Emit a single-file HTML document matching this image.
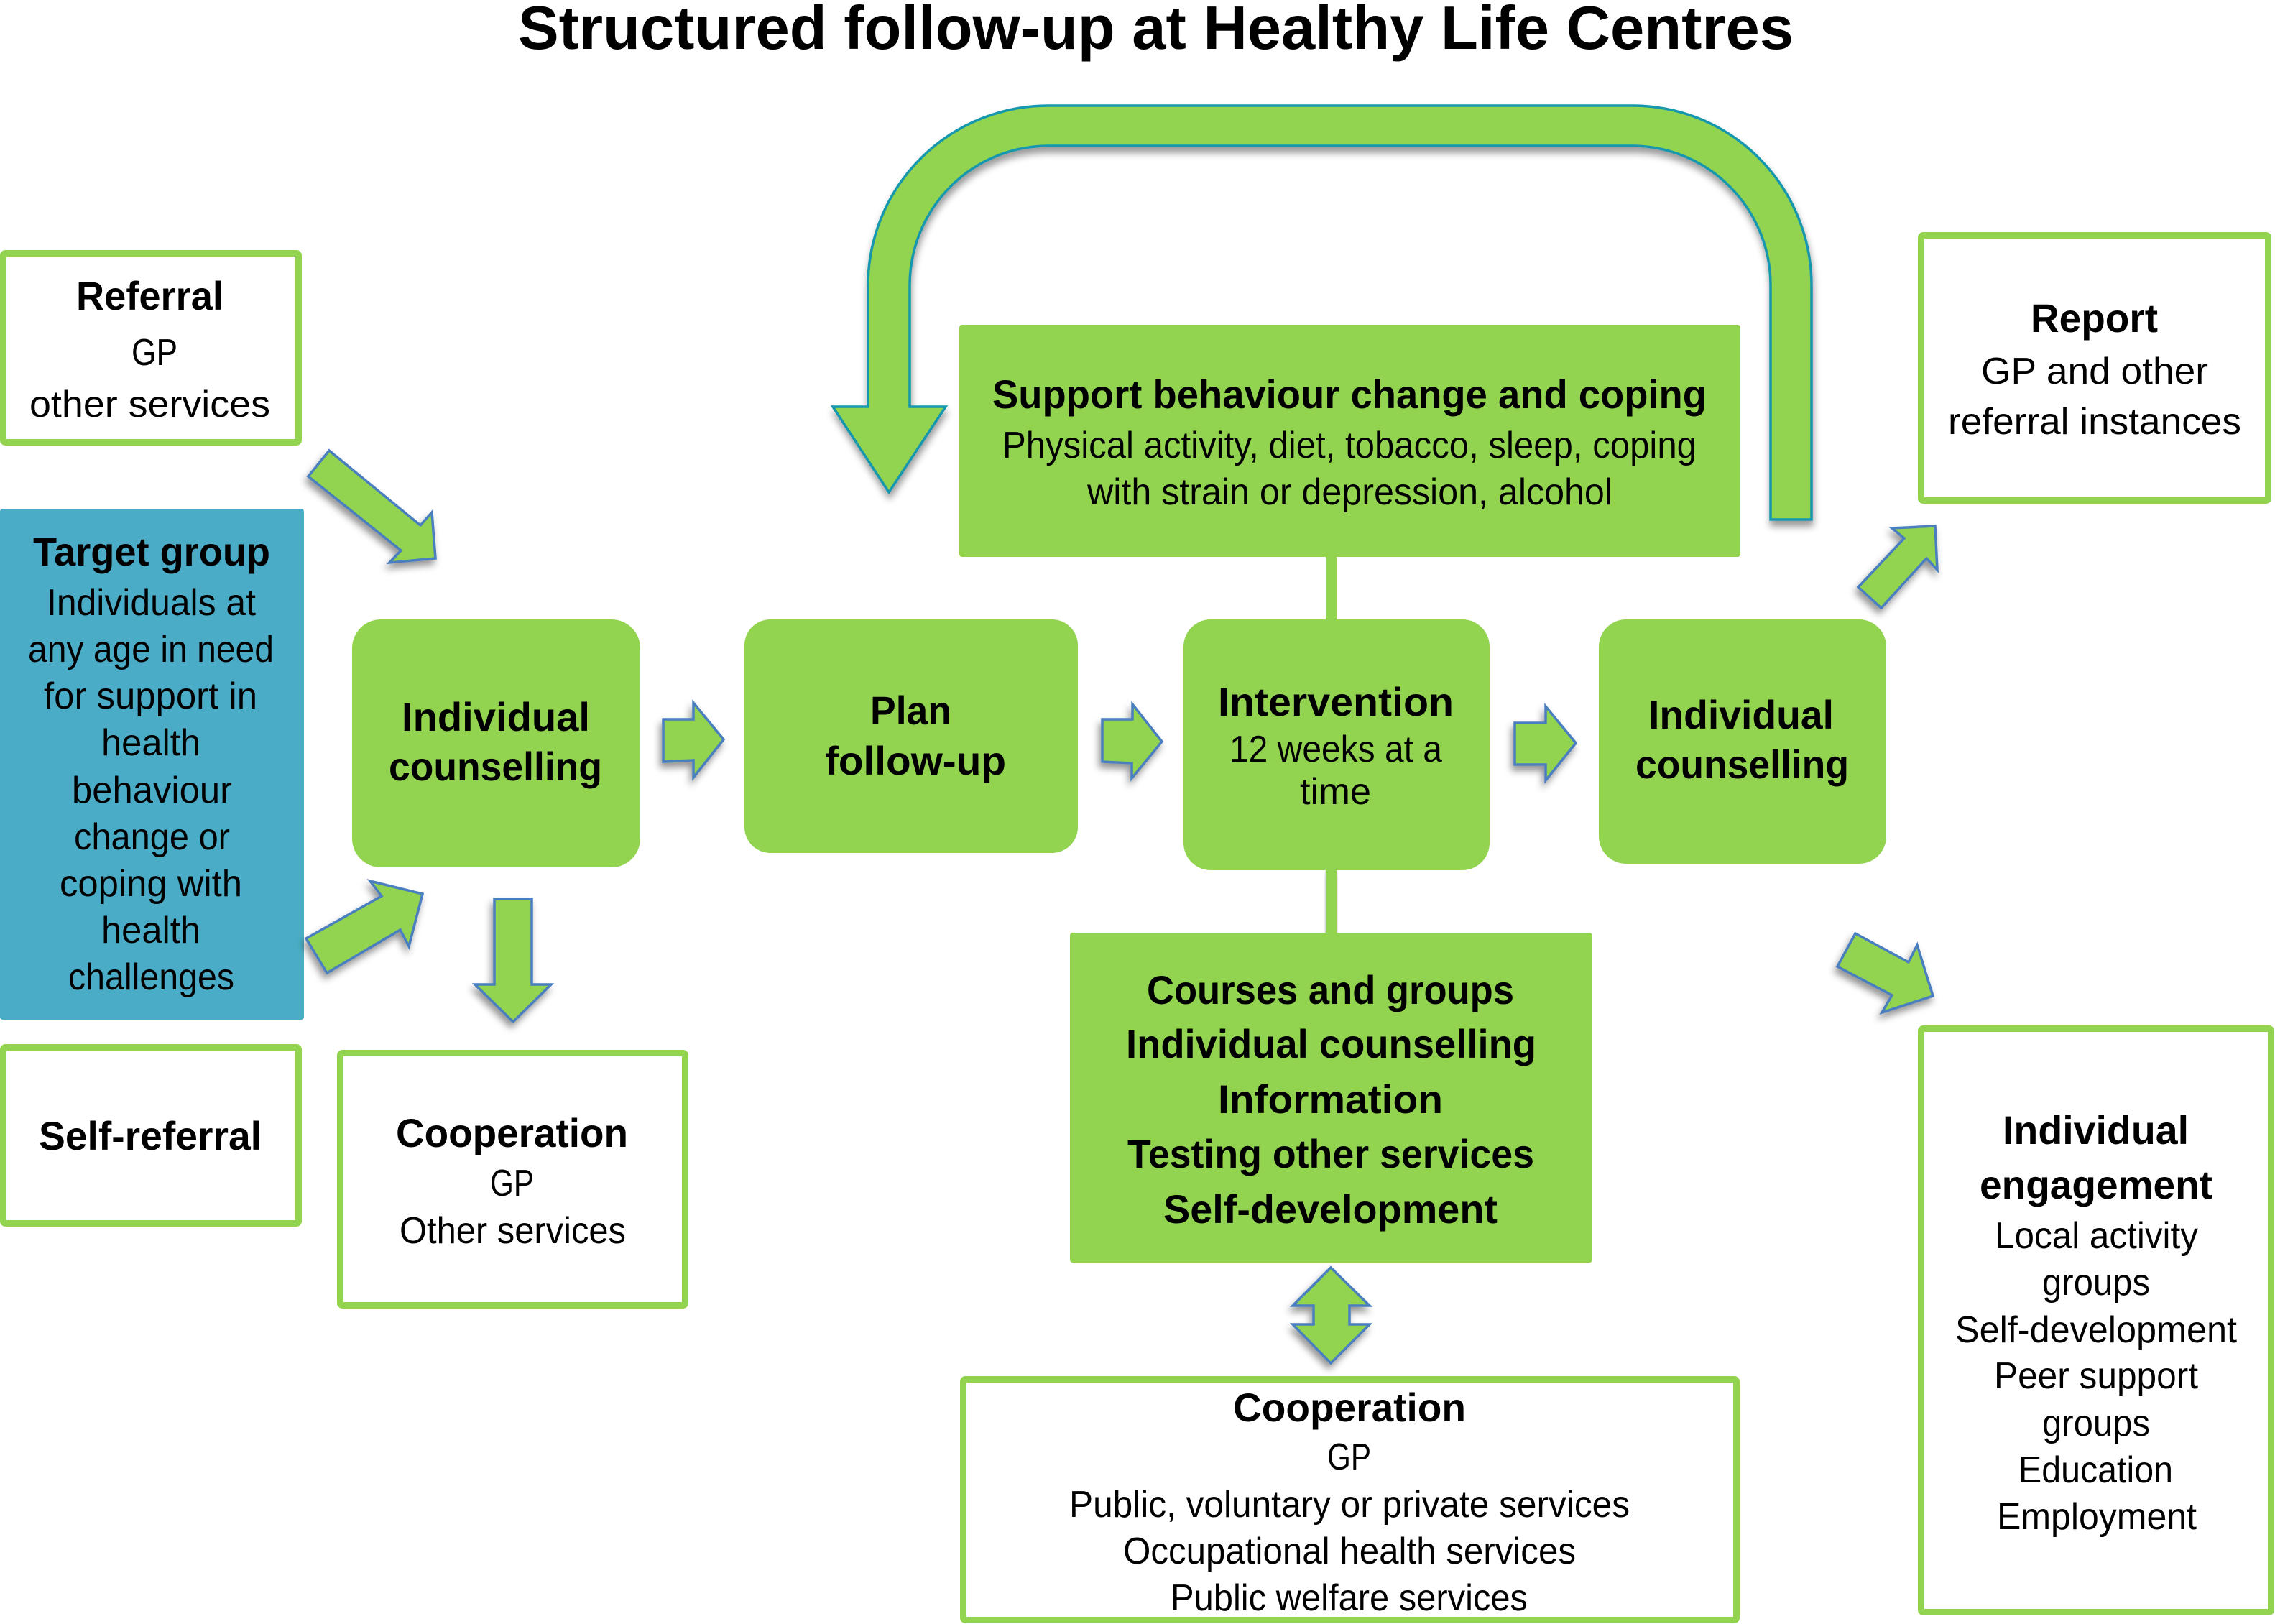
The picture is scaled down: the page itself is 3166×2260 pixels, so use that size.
<!DOCTYPE html>
<html>
<head>
<meta charset="utf-8">
<title>Structured follow-up at Healthy Life Centres</title>
<style>
html,body{margin:0;padding:0;background:#fff;}
svg{display:block;}
text{font-family:"Liberation Sans",sans-serif;fill:#000;}
.b{font-weight:bold;font-size:56px;}
.r{font-size:52px;}
.t{font-weight:bold;font-size:85px;}
.g{fill:#92D350;}
.w{fill:#fff;stroke:#92D350;stroke-width:9;}
.a{fill:#92D350;stroke:#4A7EBF;stroke-width:3.5;stroke-linejoin:miter;filter:url(#sh);}
</style>
</head>
<body>
<svg width="3166" height="2260" viewBox="0 0 3166 2260" xmlns="http://www.w3.org/2000/svg">
<defs>
<filter id="sh" x="-30%" y="-30%" width="170%" height="170%">
<feDropShadow dx="-3" dy="7" stdDeviation="5" flood-color="#000" flood-opacity="0.42"/>
</filter>
<filter id="sh2" x="-10%" y="-10%" width="120%" height="120%">
<feDropShadow dx="1" dy="8" stdDeviation="5" flood-color="#000" flood-opacity="0.4"/>
</filter>
</defs>

<!-- title -->
<text class="t" x="721" y="68" textLength="1775" lengthAdjust="spacingAndGlyphs">Structured follow-up at Healthy Life Centres</text>

<!-- connectors -->
<rect class="g" x="1845" y="770" width="15" height="95"/>
<rect class="g" x="1845" y="1205" width="15" height="98" filter="url(#sh2)"/>

<!-- curved arrow -->
<path d="M2464 723 L2464 397 A193 194 0 0 0 2272 203 L1459 203 A193 194 0 0 0 1266 397 L1266 566 L1316 566 L1237 685 L1159 566 L1208 566 L1208 397 A251 250 0 0 1 1459 147 L2272 147 A249 250 0 0 1 2521 397 L2521 723 Z" fill="#92D350" stroke="#1497AE" stroke-width="3.5" filter="url(#sh2)"/>

<!-- left boxes -->
<rect class="w" x="4.5" y="352.5" width="411" height="263" rx="3"/>
<rect x="0" y="708" width="423" height="711" rx="4" fill="#4BACC7"/>
<rect class="w" x="4.5" y="1457.5" width="411" height="245" rx="3"/>
<rect class="w" x="473.5" y="1465.5" width="480" height="351" rx="3"/>

<!-- rounded process boxes -->
<rect class="g" x="490" y="862" width="401" height="345" rx="40"/>
<rect class="g" x="1036" y="862" width="464" height="325" rx="36"/>
<rect class="g" x="1647" y="862" width="426" height="349" rx="38"/>
<rect class="g" x="2225" y="862" width="400" height="340" rx="38"/>

<!-- centre boxes -->
<rect class="g" x="1335" y="452" width="1087" height="323" rx="4"/>
<rect class="g" x="1489" y="1298" width="727" height="459" rx="4"/>
<rect class="w" x="1340.5" y="1919.5" width="1076" height="335" rx="3"/>

<!-- right boxes -->
<rect class="w" x="2673.5" y="327.5" width="483" height="369" rx="3"/>
<rect class="w" x="2673.5" y="1431.5" width="487" height="812" rx="3"/>

<!-- arrows -->
<polygon class="a" points="458,627 585,731 601,713 606,777 542,783 558,766 429,663"/>
<polygon class="a" points="426,1306 531,1247 515,1226 588,1244 569,1317 557,1294 455,1354"/>
<polygon class="a" points="688,1251 740,1251 740,1370 767,1370 714,1422 661,1370 688,1370"/>
<polygon class="a" points="923,1001 965,1001 965,978 1007,1029 965,1082 965,1058 923,1060"/>
<polygon class="a" points="1534,1001 1576,1001 1576,980 1617,1032 1575,1083 1575,1062 1534,1060"/>
<polygon class="a" points="2108,1006 2151,1006 2151,983 2193,1034 2151,1086 2151,1064 2108,1064"/>
<polygon class="a" points="2633,735 2693,732 2696,793 2681,777 2618,846 2586,817 2650,749"/>
<polygon class="a" points="2582,1299 2656,1339 2668,1315 2690,1386 2619,1409 2633,1385 2557,1345"/>
<polygon class="a" points="1852,1764 1906,1817 1878,1817 1878,1843 1906,1843 1852,1897 1799,1843 1828,1843 1828,1817 1799,1817"/>

<!-- Referral -->
<text class="b" x="106" y="431" textLength="205" lengthAdjust="spacingAndGlyphs">Referral</text>
<text class="r" x="183" y="508" textLength="64" lengthAdjust="spacingAndGlyphs">GP</text>
<text class="r" x="41" y="580" textLength="335" lengthAdjust="spacingAndGlyphs">other services</text>

<!-- Target group -->
<text class="b" x="46" y="787" textLength="330" lengthAdjust="spacingAndGlyphs">Target group</text>
<text class="r" x="65" y="856" textLength="291" lengthAdjust="spacingAndGlyphs">Individuals at</text>
<text class="r" x="39" y="921" textLength="342" lengthAdjust="spacingAndGlyphs">any age in need</text>
<text class="r" x="61" y="986" textLength="297" lengthAdjust="spacingAndGlyphs">for support in</text>
<text class="r" x="141" y="1051" textLength="138" lengthAdjust="spacingAndGlyphs">health</text>
<text class="r" x="100" y="1117" textLength="223" lengthAdjust="spacingAndGlyphs">behaviour</text>
<text class="r" x="103" y="1182" textLength="217" lengthAdjust="spacingAndGlyphs">change or</text>
<text class="r" x="83" y="1247" textLength="254" lengthAdjust="spacingAndGlyphs">coping with</text>
<text class="r" x="141" y="1312" textLength="138" lengthAdjust="spacingAndGlyphs">health</text>
<text class="r" x="95" y="1377" textLength="231" lengthAdjust="spacingAndGlyphs">challenges</text>

<!-- Self-referral -->
<text class="b" x="54" y="1600" textLength="310" lengthAdjust="spacingAndGlyphs">Self-referral</text>

<!-- Cooperation left -->
<text class="b" x="551" y="1596" textLength="323" lengthAdjust="spacingAndGlyphs">Cooperation</text>
<text class="r" x="682" y="1664" textLength="61" lengthAdjust="spacingAndGlyphs">GP</text>
<text class="r" x="556" y="1730" textLength="315" lengthAdjust="spacingAndGlyphs">Other services</text>

<!-- Individual counselling left -->
<text class="b" x="559" y="1017" textLength="262" lengthAdjust="spacingAndGlyphs">Individual</text>
<text class="b" x="541" y="1086" textLength="297" lengthAdjust="spacingAndGlyphs">counselling</text>

<!-- Plan -->
<text class="b" x="1211" y="1008" textLength="113" lengthAdjust="spacingAndGlyphs">Plan</text>
<text class="b" x="1148" y="1078" textLength="252" lengthAdjust="spacingAndGlyphs">follow-up</text>

<!-- Intervention -->
<text class="b" x="1695" y="996" textLength="328" lengthAdjust="spacingAndGlyphs">Intervention</text>
<text class="r" x="1711" y="1060" textLength="296" lengthAdjust="spacingAndGlyphs">12 weeks at a</text>
<text class="r" x="1809" y="1119" textLength="99" lengthAdjust="spacingAndGlyphs">time</text>

<!-- Individual counselling right -->
<text class="b" x="2294" y="1014" textLength="258" lengthAdjust="spacingAndGlyphs">Individual</text>
<text class="b" x="2276" y="1083" textLength="297" lengthAdjust="spacingAndGlyphs">counselling</text>

<!-- Support -->
<text class="b" x="1381" y="568" textLength="994" lengthAdjust="spacingAndGlyphs">Support behaviour change and coping</text>
<text class="r" x="1395" y="637" textLength="966" lengthAdjust="spacingAndGlyphs">Physical activity, diet, tobacco, sleep, coping</text>
<text class="r" x="1513" y="702" textLength="731" lengthAdjust="spacingAndGlyphs">with strain or depression, alcohol</text>

<!-- Courses -->
<text class="b" x="1596" y="1397" textLength="511" lengthAdjust="spacingAndGlyphs">Courses and groups</text>
<text class="b" x="1567" y="1472" textLength="571" lengthAdjust="spacingAndGlyphs">Individual counselling</text>
<text class="b" x="1695" y="1549" textLength="313" lengthAdjust="spacingAndGlyphs">Information</text>
<text class="b" x="1569" y="1625" textLength="566" lengthAdjust="spacingAndGlyphs">Testing other services</text>
<text class="b" x="1619" y="1702" textLength="465" lengthAdjust="spacingAndGlyphs">Self-development</text>

<!-- Cooperation bottom -->
<text class="b" x="1716" y="1978" textLength="324" lengthAdjust="spacingAndGlyphs">Cooperation</text>
<text class="r" x="1847" y="2045" textLength="61" lengthAdjust="spacingAndGlyphs">GP</text>
<text class="r" x="1488" y="2111" textLength="780" lengthAdjust="spacingAndGlyphs">Public, voluntary or private services</text>
<text class="r" x="1563" y="2176" textLength="630" lengthAdjust="spacingAndGlyphs">Occupational health services</text>
<text class="r" x="1629" y="2241" textLength="497" lengthAdjust="spacingAndGlyphs">Public welfare services</text>

<!-- Report -->
<text class="b" x="2826" y="462" textLength="177" lengthAdjust="spacingAndGlyphs">Report</text>
<text class="r" x="2757" y="534" textLength="316" lengthAdjust="spacingAndGlyphs">GP and other</text>
<text class="r" x="2711" y="604" textLength="408" lengthAdjust="spacingAndGlyphs">referral instances</text>

<!-- Individual engagement -->
<text class="b" x="2787" y="1592" textLength="259" lengthAdjust="spacingAndGlyphs">Individual</text>
<text class="b" x="2755" y="1668" textLength="324" lengthAdjust="spacingAndGlyphs">engagement</text>
<text class="r" x="2776" y="1737" textLength="283" lengthAdjust="spacingAndGlyphs">Local activity</text>
<text class="r" x="2842" y="1802" textLength="150" lengthAdjust="spacingAndGlyphs">groups</text>
<text class="r" x="2721" y="1868" textLength="392" lengthAdjust="spacingAndGlyphs">Self-development</text>
<text class="r" x="2775" y="1932" textLength="284" lengthAdjust="spacingAndGlyphs">Peer support</text>
<text class="r" x="2842" y="1998" textLength="150" lengthAdjust="spacingAndGlyphs">groups</text>
<text class="r" x="2809" y="2063" textLength="215" lengthAdjust="spacingAndGlyphs">Education</text>
<text class="r" x="2779" y="2128" textLength="278" lengthAdjust="spacingAndGlyphs">Employment</text>
</svg>
</body>
</html>
